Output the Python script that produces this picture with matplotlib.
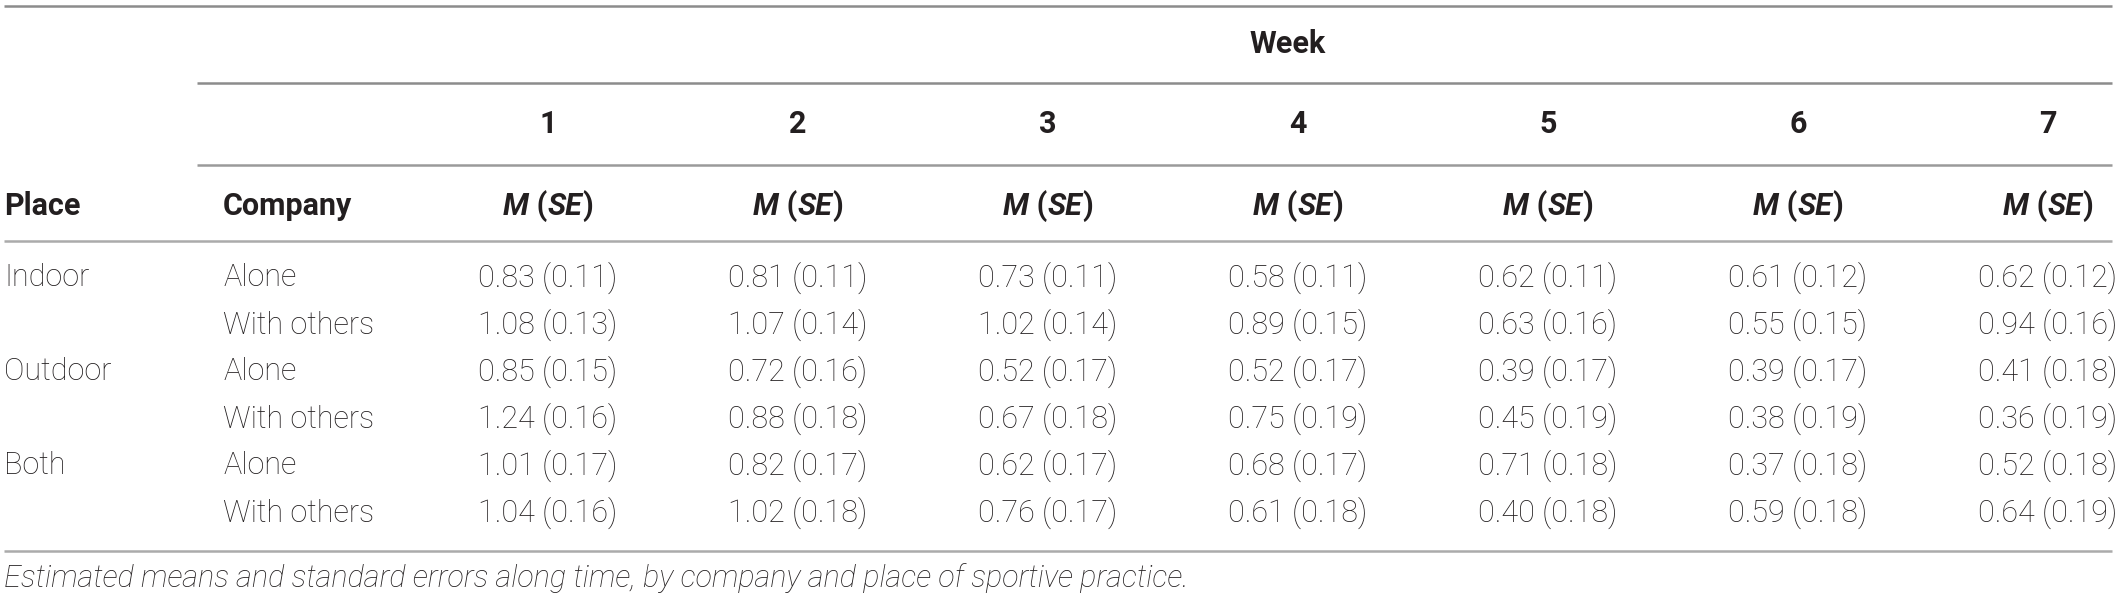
import matplotlib
matplotlib.use("Agg")
import matplotlib.pyplot as plt
from matplotlib.offsetbox import TextArea, HPacker, AnnotationBbox

plt.rcParams['font.family'] = ['Roboto', 'Liberation Sans', 'DejaVu Sans']

# table content
places = ["Indoor", "Outdoor", "Both"]
companies = ["Alone", "With others"]
weeks = [1, 2, 3, 4, 5, 6, 7]
means = [
    [0.83, 0.81, 0.73, 0.58, 0.62, 0.61, 0.62],
    [1.08, 1.07, 1.02, 0.89, 0.63, 0.55, 0.94],
    [0.85, 0.72, 0.52, 0.52, 0.39, 0.39, 0.41],
    [1.24, 0.88, 0.67, 0.75, 0.45, 0.38, 0.36],
    [1.01, 0.82, 0.62, 0.68, 0.71, 0.37, 0.52],
    [1.04, 1.02, 0.76, 0.61, 0.40, 0.59, 0.64],
]
ses = [
    [0.11, 0.11, 0.11, 0.11, 0.11, 0.12, 0.12],
    [0.13, 0.14, 0.14, 0.15, 0.16, 0.15, 0.16],
    [0.15, 0.16, 0.17, 0.17, 0.17, 0.17, 0.18],
    [0.16, 0.18, 0.18, 0.19, 0.19, 0.19, 0.19],
    [0.17, 0.17, 0.17, 0.17, 0.18, 0.18, 0.18],
    [0.16, 0.18, 0.17, 0.18, 0.18, 0.18, 0.19],
]
caption = ("Estimated means and standard errors along time, "
           "by company and place of sportive practice.")

W, H = 2117, 596
fig = plt.figure(figsize=(W / 100, H / 100), dpi=100)
ax = fig.add_axes([0, 0, 1, 1])
ax.set_xlim(0, W)
ax.set_ylim(H, 0)
ax.axis('off')

fs = 22
txt = '#231f20'
x_place, x_comp = 4, 223
col0, colstep = 548, 250
x_right = 2112
y_week, y_num, y_sub = 44, 124, 206
y_row0, rowstep = 278, 47

# rules
ax.hlines(6, 4, x_right, color='#8c8c8c', lw=1.8)
ax.hlines(83, 197, x_right, color='#8c8c8c', lw=1.8)
ax.hlines(165, 197, x_right, color='#9a9a9a', lw=1.8)
ax.hlines(241, 4, x_right, color='#ababab', lw=1.8)
ax.hlines(551, 4, x_right, color='#ababab', lw=1.8)

# headers
ax.text(1288, y_week, "Week", ha='center', va='center', fontsize=fs,
        fontweight='bold', color=txt)
ax.text(x_place, y_sub, "Place", ha='left', va='center', fontsize=fs,
        fontweight='bold', color=txt)
ax.text(x_comp, y_sub, "Company", ha='left', va='center', fontsize=fs,
        fontweight='bold', color=txt)

for i, wk in enumerate(weeks):
    xc = col0 + i * colstep
    ax.text(xc, y_num, str(wk), ha='center', va='center', fontsize=fs,
            fontweight='bold', color=txt)
    parts = [("M", 'italic'), (" (", 'normal'), ("SE", 'italic'), (")", 'normal')]
    boxes = [TextArea(s, textprops=dict(fontsize=fs, fontweight='bold',
                                        fontstyle=st, color=txt))
             for s, st in parts]
    pack = HPacker(children=boxes, pad=0, sep=0, align='baseline')
    ab = AnnotationBbox(pack, (xc, y_sub), frameon=False, box_alignment=(0.5, 0.5),
                        pad=0)
    ax.add_artist(ab)

# body
for r in range(len(means)):
    y = y_row0 + r * rowstep
    if r % 2 == 0:
        ax.text(x_place, y, places[r // 2], ha='left', va='center',
                fontsize=fs, fontweight='light', color=txt)
    ax.text(x_comp, y, companies[r % 2], ha='left', va='center',
            fontsize=fs, fontweight='light', color=txt)
    for i in range(len(weeks)):
        xc = col0 + i * colstep
        ax.text(xc, y, f"{means[r][i]:.2f} ({ses[r][i]:.2f})", ha='center',
                va='center', fontsize=fs, fontweight='light', color=txt)

ax.text(x_place, 578, caption, ha='left', va='center', fontsize=fs,
        fontstyle='italic', fontweight='light', color=txt)

fig.savefig("out.png", dpi=100)
